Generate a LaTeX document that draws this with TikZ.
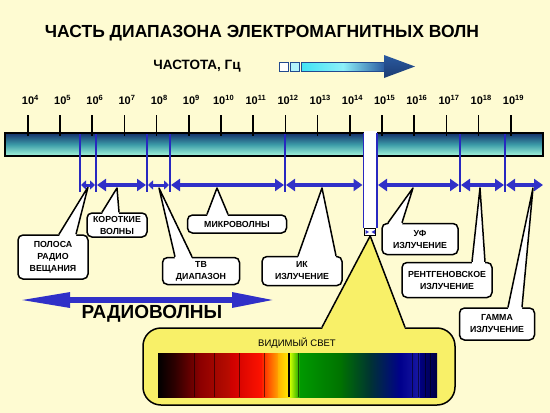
\documentclass[tikz,border=0pt]{standalone}
\usepackage{fontspec}
\setmainfont{Liberation Sans}
\usetikzlibrary{arrows.meta,calc}
\definecolor{bg}{HTML}{FEFBD2}
\definecolor{arrblue}{HTML}{3030C8}
\definecolor{sepblue}{HTML}{2828C0}
\definecolor{bartop}{HTML}{14306A}
\definecolor{barmid}{HTML}{3C9CA8}
\definecolor{barbot}{HTML}{A8F8DC}
\definecolor{vislight}{HTML}{F8F068}
\definecolor{fcyan}{HTML}{40E4F4}
\definecolor{fdark}{HTML}{2A5AA0}
\definecolor{fhead}{HTML}{234A8F}
\newcommand\tenpow[1]{10\raisebox{3.6pt}{\fontsize{7.5}{8}\selectfont #1}}
\tikzset{
  ticklab/.style={font=\bfseries\fontsize{11}{12}\selectfont, inner sep=0pt},
  tickline/.style={line width=1.6pt, black},
  sepline/.style={line width=1.4pt, sepblue},
  callbox/.style={draw=black, fill=white, line width=1.5pt, rounded corners=5pt,
     align=center, inner sep=1pt, font=\bfseries\fontsize{8.8}{12}\selectfont},
  ptrline/.style={line width=1.5pt, black, line join=round},
  darr/.style={draw=arrblue, line width=4pt,
     {Triangle[length=9pt,width=12pt]}-{Triangle[length=9pt,width=12pt]}},
  smallarr/.style={draw=arrblue, line width=3pt,
     {Triangle[length=5pt,width=9pt]}-{Triangle[length=5pt,width=9pt]}},
}
\newcommand\pointer[5]{% node, x1, x2, apex, fill colour
  \fill[#5] ($(#2,0 |- #1.north)+(0,2)$) -- (#4) -- ($(#3,0 |- #1.north)+(0,2)$) -- cycle;
  \draw[ptrline] (#2,0 |- #1.north) -- (#4) -- (#3,0 |- #1.north);
}
\begin{document}
\begin{tikzpicture}[x=1pt,y=-1pt]
\useasboundingbox (0,0) rectangle (550,413);
\fill[bg] (0,0) rectangle (550,413);

% title
\node[font=\bfseries\fontsize{17.5}{20}\selectfont, inner sep=0pt] (title) at (262,33) {ЧАСТЬ ДИАПАЗОНА ЭЛЕКТРОМАГНИТНЫХ ВОЛН};
\node[font=\bfseries\fontsize{13.5}{15}\selectfont, inner sep=0pt] (freq) at (197,66) {ЧАСТОТА, Гц};
% frequency arrow
\draw[fill=white, draw=fhead, line width=0.8pt] (279,62) rectangle (288,71);
\draw[fill=fcyan!40, draw=fhead, line width=0.8pt] (290,62) rectangle (299,71);
\shade[left color=fcyan, right color=fdark, middle color=fcyan!60!white] (301,62) rectangle (385,71);
\draw[fhead, line width=0.6pt] (301,62) rectangle (385,71);
\shade[top color=fdark, bottom color=fhead!80!black] (384,55) -- (415,66.5) -- (384,78) -- cycle;
\coordinate (farrow) at (415,66.5);

% bar
\shade[top color=bartop, bottom color=barbot, middle color=barmid] (5,133) rectangle (543,156);
\draw[line width=1.8pt, black] (5,133) rectangle (543,156);

% ticks and labels
\foreach \e in {4,...,19}{
  \pgfmathsetmacro\xx{27.7+32.2*(\e-4)}
  \draw[tickline] (\xx,115) -- (\xx,136);
  \node[ticklab] (t\e) at (\xx+2.5,100) {\tenpow{\e}};
}

% visible strip in the bar
\fill[white] (364,131) rectangle (376.5,228);
\draw[sepline] (363.5,133) -- (363.5,228);
\draw[sepline] (377,133) -- (377,228);

% separators
\foreach \n/\xx in {s1/80,s2/96,s3/147,s4/170,s5/285,s6/460,s7/505}{
  \draw[sepline] (\xx,134) -- (\xx,192);
}
\foreach \n/\xx in {s1/80,s2/96,s3/147,s4/170,s5/285,s6/460,s7/505,v1/363.5,v2/377,bend/543}{
  \coordinate (\n) at (\xx,185);
}

% callouts
\node[callbox, minimum width=70pt, minimum height=44pt] (bc) at (53,257) {ПОЛОСА\\РАДИО\\ВЕЩАНИЯ};
\node[callbox, minimum width=60pt, minimum height=24pt] (sw) at (117,225) {КОРОТКИЕ\\ВОЛНЫ};
\node[callbox, minimum width=77pt, minimum height=27pt] (tv) at (201,271) {ТВ\\ДИАПАЗОН};
\node[callbox, minimum width=99pt, minimum height=18pt] (mw) at (237,224) {МИКРОВОЛНЫ};
\node[callbox, minimum width=80pt, minimum height=29pt] (ir) at (302,271) {ИК\\ИЗЛУЧЕНИЕ};
\node[callbox, minimum width=76pt, minimum height=31pt] (uv) at (420,239) {УФ\\ИЗЛУЧЕНИЕ};
\node[callbox, minimum width=90pt, minimum height=35pt] (xr) at (447,280) {РЕНТГЕНОВСКОЕ\\ИЗЛУЧЕНИЕ};
\node[callbox, minimum width=75pt, minimum height=32pt] (gm) at (497,324) {ГАММА\\ИЗЛУЧЕНИЕ};

\coordinate (pbc) at (88,187);
\coordinate (psw) at (117,188);
\coordinate (ptv) at (159,188);
\coordinate (pmw) at (217,188);
\coordinate (pir) at (322,188);
\coordinate (puv) at (413,188);
\coordinate (pxr) at (480,188);
\coordinate (pgm) at (533,188);

\pointer{bc}{59}{76}{pbc}{white}
\pointer{sw}{102}{119}{psw}{white}
\pointer{tv}{175}{192}{ptv}{white}
\pointer{mw}{207}{228}{pmw}{white}
\pointer{ir}{298}{336}{pir}{white}
\pointer{uv}{388}{402}{puv}{white}
\pointer{xr}{472}{485}{pxr}{white}
\pointer{gm}{508}{522}{pgm}{white}

% range arrows
\draw[smallarr] ($(s1)+(1,0)$) -- ($(s2)+(-1,0)$);
\draw[darr] ($(s2)+(1,0)$) -- ($(s3)+(-1,0)$);
\draw[smallarr] ($(s3)+(1,0)$) -- ($(s4)+(-1,0)$);
\draw[darr] ($(s4)+(1,0)$) -- ($(s5)+(-1,0)$);
\draw[darr] ($(s5)+(1,0)$) -- ($(v1)+(-1,0)$);
\draw[darr] ($(v2)+(1,0)$) -- ($(s6)+(-1,0)$);
\draw[darr] ($(s6)+(1,0)$) -- ($(s7)+(-1,0)$);
\draw[darr] ($(s7)+(1,0)$) -- (bend);

% tiny visible marker
\node[draw=black, fill=white, line width=0.8pt, minimum width=11pt, minimum height=7pt, inner sep=0pt] (vm) at (370.2,232) {};
\fill[arrblue] (365.5,230) -- (369,232) -- (365.5,234) -- cycle;
\fill[arrblue] (375,230) -- (371.5,232) -- (375,234) -- cycle;

% radio waves
\coordinate (rl) at (18,300);
\coordinate (rr) at (276,300);
\draw[draw=arrblue, line width=6pt, {Triangle[length=52pt,width=14pt]}-{Triangle[length=44pt,width=14pt]}] (rl) -- (rr);
\node[font=\bfseries\fontsize{19}{22}\selectfont, inner sep=0pt] (radio) at (152,314) {РАДИОВОЛНЫ};

% visible light callout
\node[draw=black, fill=vislight, line width=1.5pt, rounded corners=18pt, minimum width=312pt, minimum height=77pt] (vis) at (299,366.5) {};
\pointer{vis}{322}{405}{vm.south}{vislight}
\node[font=\fontsize{9.5}{11}\selectfont, inner sep=0pt] (vistxt) at (297,343) {ВИДИМЫЙ СВЕТ};
% spectrum
\begin{scope}
\shade[left color=black, right color=black!80!red] (158,353) rectangle (176.5,397);
\shade[left color=black!80!red, right color=red!55!black] (176,353) rectangle (200.5,397);
\shade[left color=red!55!black, right color=red!70!black!90!orange] (200,353) rectangle (230.5,397);
\shade[left color=red!80!black, right color=red!85!orange] (230,353) rectangle (262.5,397);
\shade[left color=red!75!orange, right color=orange!70!yellow] (262,353) rectangle (278.5,397);
\shade[left color=orange!60!yellow, right color=yellow!90!orange] (278,353) rectangle (290.5,397);
\shade[left color=yellow!80!green, right color=green!60!black] (290,353) rectangle (300.5,397);
\shade[left color=green!60!black, right color=green!45!black] (300,353) rectangle (340.5,397);
\shade[left color=green!45!black, right color=green!25!black!80!blue] (340,353) rectangle (370.5,397);
\shade[left color=green!25!black!80!blue, right color=blue!55!black] (370,353) rectangle (400.5,397);
\shade[left color=blue!55!black, right color=blue!60!black!90!white] (400,353) rectangle (420.5,397);
\shade[left color=blue!50!black, right color=blue!25!black] (420,353) rectangle (437,397);
\foreach \lx in {194,214,239,264,298,412,418,425,430}{
  \draw[black, opacity=0.55, line width=0.6pt] (\lx,353) -- (\lx,397);
}
\draw[black, line width=1.2pt] (289,353) -- (289,397);
\end{scope}
\end{tikzpicture}
\end{document}
